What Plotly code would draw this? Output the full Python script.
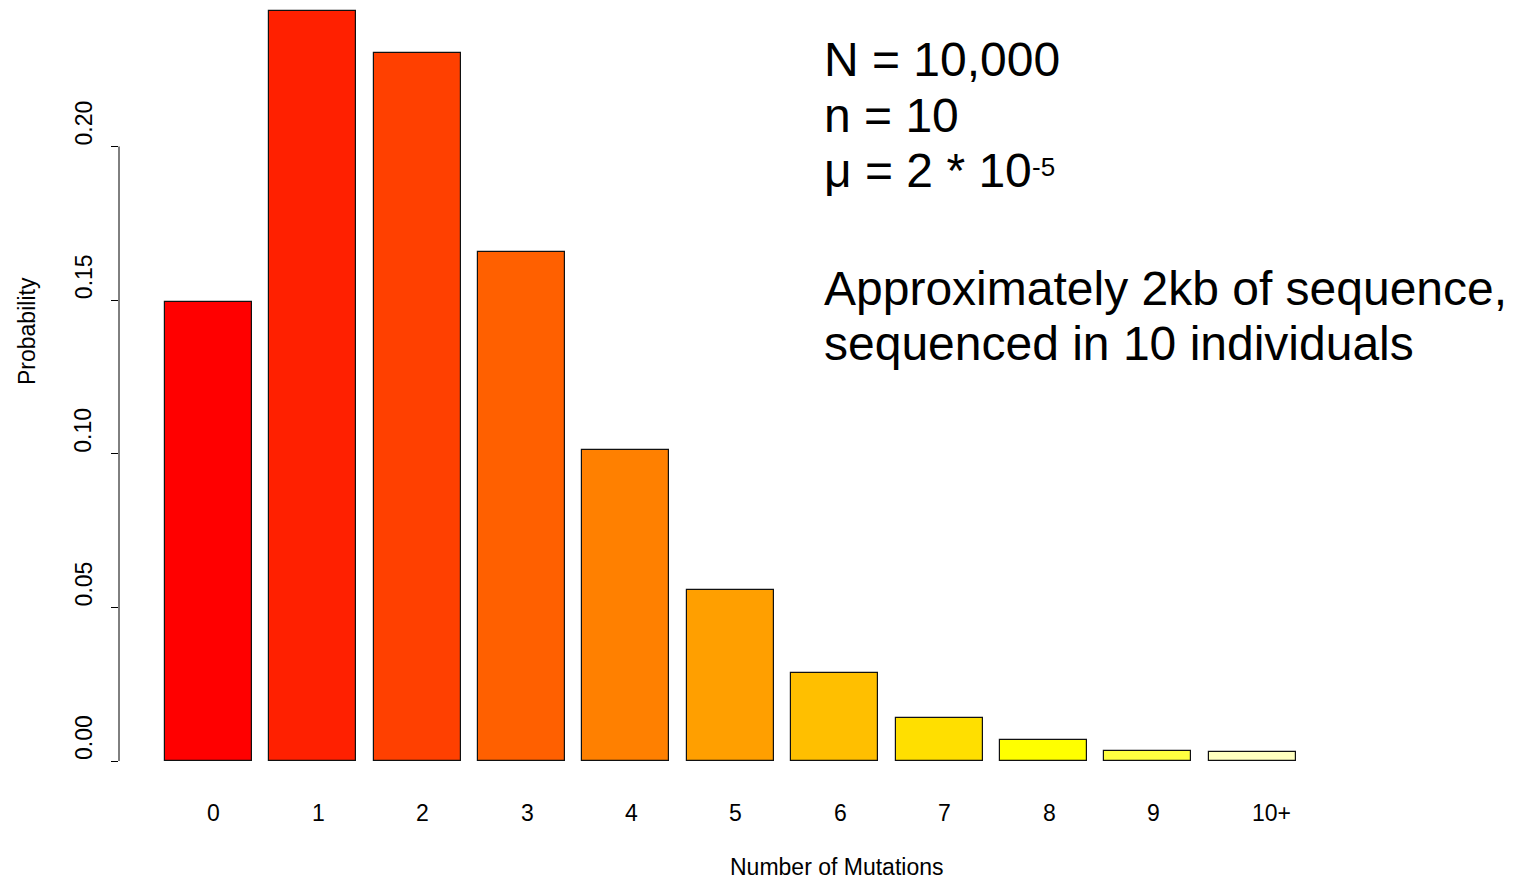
import plotly.graph_objects as go

# Distribution of the number of segregating mutations
categories = ["0", "1", "2", "3", "4", "5", "6", "7", "8", "9", "10+"]
probability = [0.1494, 0.2442, 0.2305, 0.1658, 0.1012, 0.0557,
               0.0287, 0.0141, 0.0068, 0.0034, 0.0028]
# heat.colors(11)
bar_colors = ["#FF0000", "#FF2000", "#FF4000", "#FF6000", "#FF8000", "#FF9F00",
              "#FFBF00", "#FFDF00", "#FFFF00", "#FFFF40", "#FFFFBF"]
y_ticks = [0.00, 0.05, 0.10, 0.15, 0.20]
y_tick_text = ["0.00", "0.05", "0.10", "0.15", "0.20"]
# label offsets (in bar units) relative to bar centres
label_offsets = [0.055] * 10 + [0.185]

W, H = 1514, 880
L, B, T, R = 119, 119, 0, 0
PW, PH = W - L - R, H - T - B
PITCH = 104.4          # pixels per bar slot
X0_PX = 208.2          # pixel centre of the first bar
Y_SCALE = 3072.5       # pixels per probability unit

FONT = "Liberation Sans, Arial, sans-serif"


def px_x(p):
    return (p - L) / PW


def px_y(p):
    return (H - B - p) / PH


xs = list(range(len(categories)))

fig = go.Figure()
fig.add_trace(go.Bar(
    x=xs, y=probability, width=1 / 1.2,
    marker=dict(color=bar_colors, line=dict(color="#111111", width=1.2)),
    hoverinfo="skip",
))

annotations = []
# category labels under the bars
for i, lab in enumerate(categories):
    annotations.append(dict(
        x=xs[i] + label_offsets[i], y=0, xref="x", yref="y",
        text=lab, showarrow=False, xanchor="center", yanchor="middle",
        yshift=-52, font=dict(size=23, color="black", family=FONT)))

# rotated y tick labels ending at each tick
for v, t in zip(y_ticks, y_tick_text):
    annotations.append(dict(
        x=px_x(83.5), y=v, xref="paper", yref="y",
        text=t, showarrow=False, textangle=-90,
        xanchor="center", yanchor="bottom", borderpad=0,
        font=dict(size=23, color="black", family=FONT)))

# axis titles
annotations.append(dict(
    x=px_x(836), y=px_y(867), xref="paper", yref="paper",
    text="Number of Mutations", showarrow=False,
    xanchor="center", yanchor="middle",
    font=dict(size=23, color="black", family=FONT)))
annotations.append(dict(
    x=px_x(27), y=px_y(331), xref="paper", yref="paper",
    text="Probability", showarrow=False, textangle=-90,
    xanchor="center", yanchor="middle",
    font=dict(size=23, color="black", family=FONT)))

# parameter notes
big = dict(size=48, color="black", family=FONT)
notes = [("N = 10,000", 59.5), ("n = 10", 115.2), ("μ = 2 * 10", 170.2),
         ("Approximately 2kb of sequence,", 288.5),
         ("sequenced in 10 individuals", 343.5)]
for text, yc in notes:
    annotations.append(dict(
        x=px_x(823), y=px_y(yc), xref="paper", yref="paper",
        text=text, showarrow=False, xanchor="left", yanchor="middle",
        borderpad=0, font=big))
annotations.append(dict(
    x=px_x(1031), y=px_y(167), xref="paper", yref="paper",
    text="-5", showarrow=False, xanchor="left", yanchor="middle",
    borderpad=0, font=dict(size=26, color="black", family=FONT)))

# y axis line covering 0 .. 0.20
shapes = [dict(type="line", xref="paper", yref="y", x0=0, x1=0,
               y0=y_ticks[0], y1=y_ticks[-1],
               line=dict(color="black", width=1))]

fig.update_layout(
    width=W, height=H,
    margin=dict(l=L, r=R, t=T, b=B, pad=0, autoexpand=False),
    paper_bgcolor="white", plot_bgcolor="white",
    showlegend=False, bargap=0,
    font=dict(family=FONT, color="black"),
    xaxis=dict(range=[-(X0_PX - L) / PITCH, (W - R - X0_PX) / PITCH],
               showgrid=False, zeroline=False, showline=False,
               showticklabels=False, ticks="", fixedrange=True),
    yaxis=dict(range=[0, PH / Y_SCALE], showgrid=False, zeroline=False,
               showline=False, ticks="outside", ticklen=7, tickwidth=1,
               tickcolor="black", tickvals=y_ticks, showticklabels=False,
               fixedrange=True),
    annotations=annotations,
    shapes=shapes,
)

fig.write_html("out.html", config={"displayModeBar": False})
